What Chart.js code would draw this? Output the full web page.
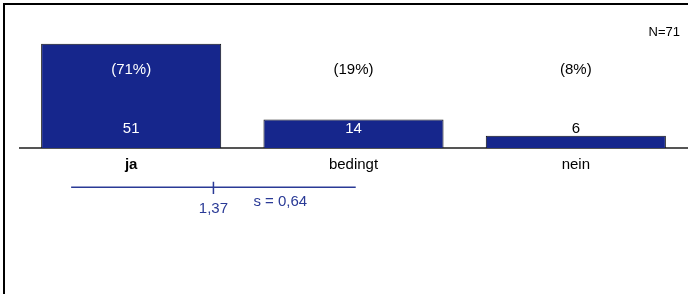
<!DOCTYPE html>
<html>
<head>
<meta charset="utf-8">
<script src="https://cdn.jsdelivr.net/npm/chart.js@4/dist/chart.umd.min.js"></script>
<style>
    body { margin: 0; background: #fff; }
    #wrap { position: relative; width: 688px; height: 294px; }
    #frame { position: absolute; left: 3px; top: 3px; right: 0; bottom: 0;
             border-top: 2px solid #000; border-left: 2px solid #000; pointer-events: none; }
</style>
</head>
<body>
<div id="wrap">
    <canvas id="chart" width="688" height="294"></canvas>
    <div id="frame"></div>
</div>
<script>

var categories = ['ja', 'bedingt', 'nein'];
var counts = [51, 14, 6];
var percents = ['(71%)', '(19%)', '(8%)'];
var total = 71;
var mean = 1.37;
var sd = 0.64;
var meanLabel = '1,37';
var sdLabel = 's = 0,64';

var BLUE = '#16268c';
var LINE_BLUE = '#2a3a96';
var FONT = 'Arial, "Liberation Sans", sans-serif';

// labels in and above the bars, N, mean/sd text
var labelsPlugin = {
    id: 'labels',
    afterDatasetsDraw: function (chart) {
        var ctx = chart.ctx;
        var x = chart.scales.x;
        var y = chart.scales.y;
        var xm = chart.scales.xm;
        ctx.save();
        ctx.font = '15px ' + FONT;
        ctx.textAlign = 'center';
        ctx.textBaseline = 'middle';
        for (var i = 0; i < counts.length; i++) {
            var px = x.getPixelForValue(i);
            ctx.fillStyle = counts[i] > 9 ? '#fff' : '#000';
            ctx.fillText(String(counts[i]), px, y.getPixelForValue(9.4));
            ctx.fillStyle = counts[i] > 38 ? '#fff' : '#000';
            ctx.fillText(percents[i], px, y.getPixelForValue(38.2));
        }

        ctx.fillStyle = LINE_BLUE;
        ctx.fillText(meanLabel, xm.getPixelForValue(mean), y.getPixelForValue(-29.6));
        ctx.fillText(sdLabel, xm.getPixelForValue(mean + sd * 0.47), y.getPixelForValue(-26.5));

        ctx.font = '13px ' + FONT;
        ctx.fillStyle = '#000';
        ctx.textAlign = 'right';
        ctx.fillText('N=' + total, chart.chartArea.right - 7, 32.5);
        ctx.restore();
    }
};

var context = document.getElementById('chart').getContext('2d');
var chart = new Chart(context, {
    type: 'bar',
    data: {
        labels: categories,
        datasets: [{
            data: counts,
            backgroundColor: BLUE,
            borderColor: '#111',
            borderWidth: 1,
            grouped: false,
            categoryPercentage: 1,
            barPercentage: 0.81
        }, {
            // mean +/- s line
            type: 'line',
            xAxisID: 'xm',
            data: [{x: mean - sd, y: -19.2}, {x: mean + sd, y: -19.2}],
            borderColor: LINE_BLUE,
            borderWidth: 1.5,
            pointRadius: 0
        }, {
            // mean tick
            type: 'line',
            xAxisID: 'xm',
            data: [{x: mean, y: -16.5}, {x: mean, y: -22.5}],
            borderColor: LINE_BLUE,
            borderWidth: 1.5,
            pointRadius: 0
        }]
    },
    options: {
        animation: false,
        responsive: false,
        layout: {padding: {left: 20, right: 1, top: 5, bottom: 3}},
        plugins: {
            legend: {display: false},
            tooltip: {enabled: false}
        },
        scales: {
            x: {
                position: {y: 0},
                grid: {display: false, drawTicks: false},
                border: {display: true, color: '#555', width: 2},
                ticks: {
                    padding: 8,
                    color: '#000',
                    font: function (c) {
                        return {family: FONT, size: 15, weight: c.index === 0 ? 'bold' : 'normal'};
                    }
                }
            },
            xm: {
                type: 'linear',
                display: false,
                offset: false,
                min: 0.5,
                max: 3.5
            },
            y: {
                display: false,
                min: -70,
                max: 70
            }
        }
    },
    plugins: [labelsPlugin]
});
</script>
</body>
</html>
